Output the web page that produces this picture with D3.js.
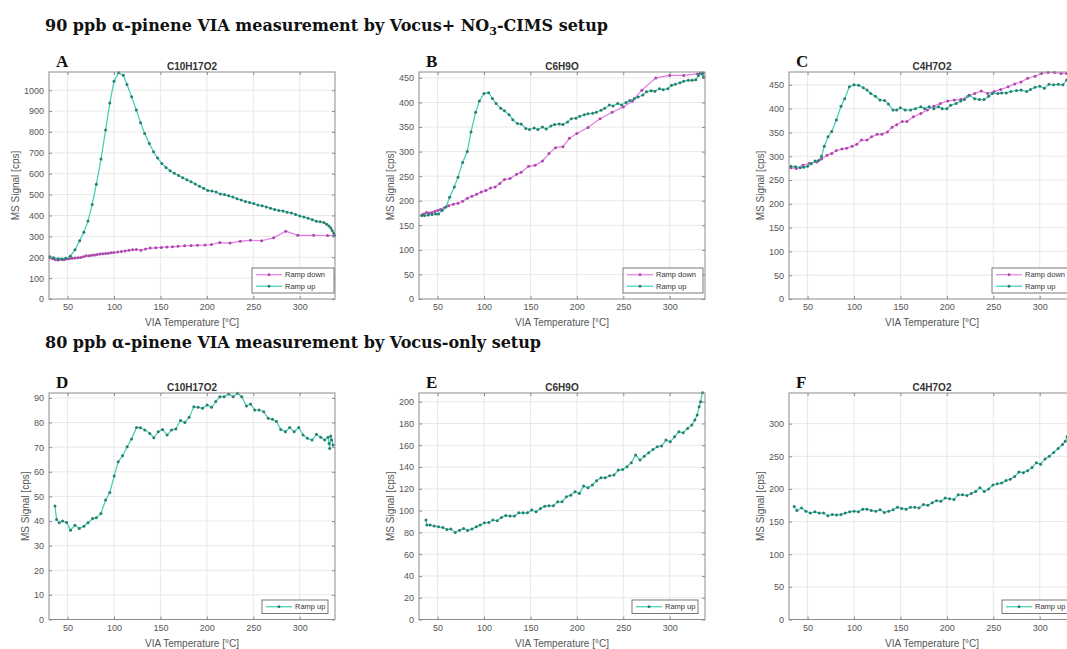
<!DOCTYPE html>
<html>
<head>
<meta charset="utf-8">
<script src="https://cdn.jsdelivr.net/npm/d3@7"></script>
<style>
  body { margin:0; background:#fff; }
  svg text { font-family: "Liberation Sans", Arial, sans-serif; }
  .heading { font-family: "DejaVu Serif", Georgia, serif; font-weight:bold; font-size:16px; fill:#111; }
  .letter { font-family: "Liberation Serif", "Times New Roman", serif; font-weight:bold; font-size:17px; fill:#111; }
</style>
</head>
<body>
<svg id="fig" width="1067" height="649"></svg>
<script>
// temperatures [°C] and signals [cps]
var tempAUp = [31,35,40,44,48,53,58,63,67.5,72,76.5,81,86,91,95.5,100,105,110,114,119,124,128.6,133,138,142.6,147,151.5,156,160.5,165,169.5,174,178.5,183,187.5,192,196.5,201,205.5,210,214.5,219,223.5,228,232.5,237,241.5,246,250.5,255,259.5,264,268.5,273,277.5,282,286.5,291,295.5,300,304.5,309,313.5,318,322,326,329,331.5,333.5,335,336.5,337.5]
var sigAUp = [202,197,193,192,195,205,236,279,320,373,453,549,670,809,939,1043,1083,1072,1027,968,905,844,793,745,705,675,649,630,614,602,591,581,571,561,551,540,530,520,517,512,503,500,494,488,480,474,467,462,457,450,446,441,435,428,424,421,415,412,405,398,393,387,380,372,370,366,358,350,340,328,316,305]
var tempADown = [31,34,37,40,43,46,49,52,55,58,61,64,67,70,73,76,79,82,85,88,91,94,97,100,104,108,112,116,120,124,129,134,139,145,151,157,163,169,176,183,190,198,205,214,225,236,247,259,272,285,298,315,330,337]
var sigADown = [197,193,188,187,190,188,191,193,195,196,197,199,202,207,207,209,211,213,215,217,218,219,221,223,225,228,230,233,236,237,234,240,244,245,247,249,250,252,255,256,257,258,261,270,268,277,281,279,293,325,305,305,304,303]

var tempBUp = [33,36,40,44,48,51,55,59,63,68,72,77,82,86,91,95,100,105,109,113,118,122,127,131,136,140,145,149,154,158,163,167,172,176,181,185,190,194,199,203,208,212,217,221,226,230,235,239,244,248,253,257,262,266,271,275,280,284,289,293,298,302,306,311,315,320,324,328,331,333,335,336.5]
var sigBUp = [170,170,171,172,173,173,180,187,207,228,248,278,300,340,380,403,418,420,408,398,388,383,375,365,357,356,347,345,348,345,350,346,352,355,356,355,360,367,368,372,375,377,378,380,384,388,395,393,398,395,400,404,408,411,415,422,424,423,428,426,428,435,437,440,443,445,445,446,455,460,458,452]
var tempBDown = [33,35,38,41,44,47,50,53,57,62,67,72,77,82,87,92,97,102,107,112,117,122,128,135,140,148,155,163,170,177,185,192,200,212,225,238,250,260,270,285,300,315,330,336]
var sigBDown = [171,173,176,175,176,178,180,182,185,190,193,195,199,205,209,213,218,221,226,228,235,243,245,254,258,270,272,281,296,308,310,327,337,349,367,380,391,403,425,450,455,455,458,460]

var tempCUp = [32,37,42,46,50,54,58,62,65,68,72,76,81,86,90,95,100,105,110,114,118,123,128,133,137,142,146,150,155,161,166,172,176,181,186,191,195,200,204,210,215,219,224,230,235,240,245,249,255,259,264,269,275,280,286,290,295,300,305,310,315,320,325,329]
var sigCUp = [279,278,276,277,279,284,290,291,300,321,341,352,376,405,421,446,450,449,444,439,432,426,418,417,410,397,397,402,397,397,400,404,400,404,400,404,400,400,407,411,416,419,428,421,419,419,426,432,432,433,433,436,438,439,436,440,445,447,443,451,450,451,450,460]
var tempCDown = [32,38,45,52,60,65,71,76,81,87,92,98,103,108,114,119,125,130,136,141,146,152,157,164,172,179,186,193,201,208,215,222,230,237,244,251,258,266,273,280,287,295,302,309,316,323,329,335]
var sigCDown = [276,274,281,285,288,294,302,306,312,315,317,321,325,334,334,341,346,346,351,361,366,373,373,383,390,397,405,411,416,418,419,425,432,437,432,436,440,446,452,456,464,468,474,476,476,474,474,475]

var tempDUp = [36.4,38.2,41,44.6,49,53.2,57.9,62.6,67.6,72,77,81,85.9,91,95.5,100.2,104.5,109.2,114.2,118.9,124.2,128.5,133.2,138.6,142.9,147.6,152.2,157.2,161.9,166.6,171.6,176.3,180.9,186,190.6,195.3,200.3,205,209.6,214,218.6,223.6,228.3,233,237.6,242.6,247,251.6,256.2,261.3,266,270.6,274.9,279.6,284.6,289.2,294,299,303.6,308.3,313.3,318,322.6,326.9,330.5,331.6,332.3,333.4,334.4,335.9]
var sigDUp = [46.1,40.6,39.3,40,39.4,36.3,38.3,37,37.9,39.3,41,41.3,43.1,48.5,51.6,58.3,64.1,66.5,70.2,73.3,78,77.9,77,75.6,73.8,76.3,77.2,74.9,77,77.4,80.8,80,82.1,86.4,86.2,85.8,87.1,86.2,88.5,90.5,90.5,91.6,90.5,91.9,90.5,86.7,87.5,85.1,85.1,84.4,81.7,81.3,80.4,77.2,76.3,78,76.3,78,74.9,73.6,72.9,75.2,74,72.9,74,71.5,69.5,74.5,72.9,70.9]

var tempEUp = [37.5,38.5,42,46.4,51,55.7,60,64.3,69,73.7,78,82.3,87,91.6,95.9,100.5,105.2,109.5,114.2,118.8,123.5,128.1,132.8,137.5,142.1,146.8,151.4,156.1,160.8,165.4,170,174.7,179.4,184,188.7,193.4,198,202.7,207.3,212,216.7,221.3,226,230.6,235.3,240,244.6,249.3,254,258.6,263.3,268,272.6,277.3,282,286.6,291.2,296,300.5,305.2,309.9,314.5,319.2,323.8,327,329.6,331.7,333.2,335.3]
var sigEUp = [91.3,86.7,86.7,85.8,85.1,84.5,82.7,83,80,82,83.6,81.8,83,85.1,86.7,88.8,89.1,91.3,90.7,93.7,95.6,95,95,98,98,98,100.5,98.9,102,104.1,104.4,104.4,108.1,108.1,112.7,114.2,117.3,115.8,122.5,121,123.4,127.4,130.2,130.2,132,132.6,137.2,137.8,140.3,144,151,146.4,150,153.1,156.2,158.7,159.3,164.8,163.2,167.8,172.4,171.5,175.5,178.6,183.2,187.7,195.4,200,208.3]

var tempFUp = [35.6,38.5,43.5,48.2,52.9,57.9,62.6,67.3,71.9,76.6,81.3,86,90.6,95.3,100,104.7,109.4,114,118.7,123.4,128.1,132.7,137.4,142.1,146.8,151.4,156.1,160.8,165.5,170.1,174.8,179.5,184.2,188.8,193.5,198.2,202.9,207.6,212.2,216.9,221.6,226.3,231,235.6,240.3,245,249.6,254.3,259,263.7,268.3,273,277.7,282.4,287,291.7,296.4,301,305.8,310.4,315.1,319.8,324.5,327.5,329.5,331,333,335]
var sigFUp = [173,167,171,166,163,165,163,163,159,161,160,161,163,165,166,165,169,169,167,166,168,164,166,168,172,170,169,172,172,171,176,175,179,182,181,186,185,184,191,191,190,193,196,202,196,200,206,208,209,213,215,219,226,225,228,233,240,238,246,250,256,262,268,273,280,290,302,315]

var xTicks = [50, 100, 150, 200, 250, 300]
var yTicksA = [0,100,200,300,400,500,600,700,800,900,1000]
var yTicksBC = [0,50,100,150,200,250,300,350,400,450]
var yTicksD = [0,10,20,30,40,50,60,70,80,90]
var yTicksE = [0,20,40,60,80,100,120,140,160,180,200]
var yTicksF = [0,50,100,150,200,250,300]

var colLeft = [49, 419, 789]
  , rowTop = [72, 393]
  , rowBottom = [299, 619.5]
  , plotW = 286
  , xDomain = [30, 338]

var down = { name:'Ramp down', line:'#e47ce4', mark:'#a94aa9' }
var up = { name:'Ramp up', line:'#3ecdb6', mark:'#2a7e70' }

var panels = [
  { letter:'A', title:'C10H17O2', col:0, row:0, yMax:1087, yTicks:yTicksA, series:[[down, tempADown, sigADown], [up, tempAUp, sigAUp]], legW:82, legGap:1 },
  { letter:'B', title:'C6H9O', col:1, row:0, yMax:462, yTicks:yTicksBC, series:[[down, tempBDown, sigBDown], [up, tempBUp, sigBUp]], legW:80, legGap:2 },
  { letter:'C', title:'C4H7O2', col:2, row:0, yMax:477, yTicks:yTicksBC, series:[[down, tempCDown, sigCDown], [up, tempCUp, sigCUp]], legW:82, legGap:1 },
  { letter:'D', title:'C10H17O2', col:0, row:1, yMax:92, yTicks:yTicksD, series:[[up, tempDUp, sigDUp]], legW:66, legGap:7 },
  { letter:'E', title:'C6H9O', col:1, row:1, yMax:208, yTicks:yTicksE, series:[[up, tempEUp, sigEUp]], legW:66, legGap:7 },
  { letter:'F', title:'C4H7O2', col:2, row:1, yMax:347, yTicks:yTicksF, series:[[up, tempFUp, sigFUp]], legW:66, legGap:7 }
]

var svg = d3.select('#fig')

// headings
var h1 = svg.append('text').attr('class', 'heading').attr('x', 45).attr('y', 31)
h1.append('tspan').text('90 ppb \u03b1-pinene VIA measurement by Vocus+ NO')
h1.append('tspan').attr('font-size', '11px').attr('dy', 4).text('3')
h1.append('tspan').attr('dy', -4).text('-CIMS setup')
svg.append('text').attr('class', 'heading').attr('x', 45).attr('y', 348)
  .text('80 ppb \u03b1-pinene VIA measurement by Vocus-only setup')

function drawPanel(p, pi) {
  var left = colLeft[p.col]
    , top = rowTop[p.row]
    , bottom = rowBottom[p.row]
    , right = left + plotW
  var x = d3.scaleLinear().domain(xDomain).range([left, right])
  var y = d3.scaleLinear().domain([0, p.yMax]).range([bottom, top])
  var g = svg.append('g')

  g.append('rect').attr('x', left).attr('y', top).attr('width', plotW).attr('height', bottom - top).attr('fill', '#fff')

  // grid
  g.selectAll('line.gx').data(xTicks).enter().append('line')
    .attr('x1', function(d) { return x(d) }).attr('x2', function(d) { return x(d) })
    .attr('y1', top).attr('y2', bottom)
    .attr('stroke', '#e2e2e2').attr('stroke-width', 0.8)
  g.selectAll('line.gy').data(p.yTicks.filter(function(d) { return d > 0 })).enter().append('line')
    .attr('x1', left).attr('x2', right)
    .attr('y1', function(d) { return y(d) }).attr('y2', function(d) { return y(d) })
    .attr('stroke', '#e2e2e2').attr('stroke-width', 0.8)

  // data
  var clipId = 'clip' + pi
  svg.append('clipPath').attr('id', clipId).append('rect')
    .attr('x', left - 2).attr('y', top - 2).attr('width', plotW + 4).attr('height', bottom - top + 4)
  var dg = g.append('g').attr('clip-path', 'url(#' + clipId + ')')
  p.series.forEach(function(s) {
    var pts = s[1].map(function(t, i) { return [t, s[2][i]] })
    dg.append('path').datum(pts)
      .attr('fill', 'none').attr('stroke', s[0].line).attr('stroke-width', 1.2)
      .attr('d', d3.line().x(function(d) { return x(d[0]) }).y(function(d) { return y(d[1]) }))
    dg.selectAll(null).data(pts).enter().append('circle')
      .attr('cx', function(d) { return x(d[0]) }).attr('cy', function(d) { return y(d[1]) })
      .attr('r', 1.5).attr('fill', s[0].mark)
  })

  // axes, ticks inside on all four sides
  var axColor = '#8c8c8c'
  var ax = g.append('g').attr('transform', 'translate(0,' + bottom + ')')
    .call(d3.axisBottom(x).tickValues(xTicks).tickSize(-3).tickPadding(5))
  var axT = g.append('g').attr('transform', 'translate(0,' + top + ')')
    .call(d3.axisTop(x).tickValues(xTicks).tickSize(-3).tickFormat(''))
  var ay = g.append('g').attr('transform', 'translate(' + left + ',0)')
    .call(d3.axisLeft(y).tickValues(p.yTicks).tickSize(-3).tickPadding(5).tickFormat(d3.format('d')))
  var ayR = g.append('g').attr('transform', 'translate(' + right + ',0)')
    .call(d3.axisRight(y).tickValues(p.yTicks).tickSize(-3).tickFormat(''))
  ;[ax, axT, ay, ayR].forEach(function(a) {
    a.select('.domain').remove()
    a.selectAll('line').attr('stroke', axColor)
    a.selectAll('text').attr('fill', '#555').attr('font-size', '9px').attr('font-family', '"Liberation Sans", Arial, sans-serif')
  })
  g.append('rect').attr('x', left).attr('y', top).attr('width', plotW).attr('height', bottom - top)
    .attr('fill', 'none').attr('stroke', axColor).attr('stroke-width', 1)

  // labels
  var bb = ay.node().getBBox()
  g.append('text').attr('transform', 'translate(' + (left + bb.x - 8) + ',' + ((top + bottom) / 2) + ') rotate(-90)')
    .attr('text-anchor', 'middle').attr('dominant-baseline', 'central')
    .attr('font-size', '10px').attr('fill', '#555').text('MS Signal [cps]')
  g.append('text').attr('x', (left + right) / 2).attr('y', bottom + 27)
    .attr('text-anchor', 'middle').attr('font-size', '10px').attr('fill', '#555').text('VIA Temperature [\u00b0C]')
  g.append('text').attr('x', (left + right) / 2).attr('y', top - 2.5)
    .attr('text-anchor', 'middle').attr('font-size', '10px').attr('font-weight', 'bold').attr('fill', '#333').text(p.title)
  g.append('text').attr('class', 'letter').attr('x', left + 7).attr('y', top - 5).text(p.letter)

  // legend
  var rowH = 11.5
    , legH = p.series.length * rowH + 2
    , lx = right - p.legW - p.legGap
    , ly = bottom - 6 - legH
  var lg = g.append('g')
  lg.append('rect').attr('x', lx).attr('y', ly).attr('width', p.legW).attr('height', legH)
    .attr('fill', '#fff').attr('stroke', '#6a6a6a').attr('stroke-width', 0.9)
  p.series.forEach(function(s, i) {
    var yy = ly + 1 + rowH * i + rowH / 2
    lg.append('line').attr('x1', lx + 4).attr('x2', lx + 30).attr('y1', yy).attr('y2', yy)
      .attr('stroke', s[0].line).attr('stroke-width', 1.2)
    lg.append('circle').attr('cx', lx + 17).attr('cy', yy).attr('r', 1.4).attr('fill', s[0].mark)
    lg.append('text').attr('x', lx + 33).attr('y', yy).attr('dominant-baseline', 'central')
      .attr('font-size', '7.5px').attr('fill', '#333').text(s[0].name)
  })
}

panels.forEach(drawPanel)
</script>
</body>
</html>
